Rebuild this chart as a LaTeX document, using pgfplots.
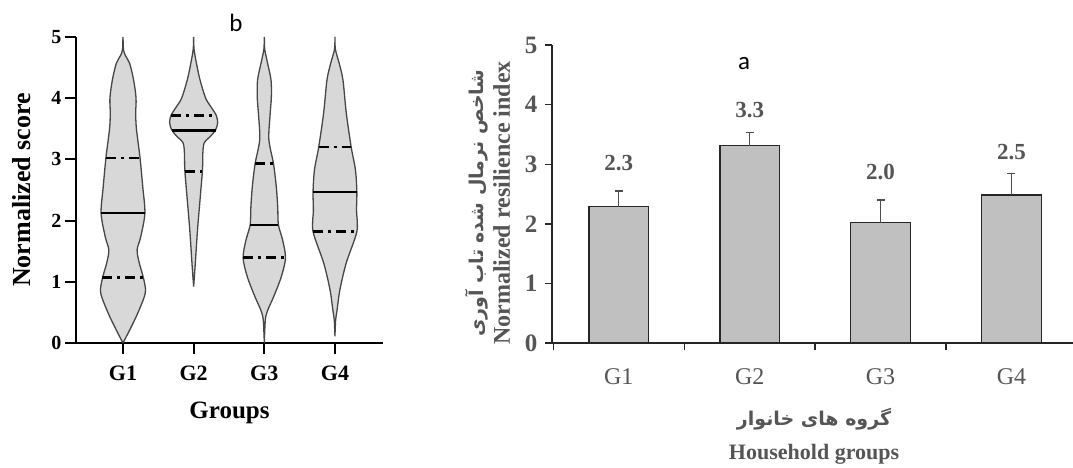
\documentclass[border=0pt]{standalone}
\usepackage{pgfplots}
\pgfplotsset{compat=1.18}
\usepackage{fontspec}
\setmainfont{Liberation Serif}
\newfontfamily\carlito{Carlito}
\newfontfamily\persian[Script=Arabic]{DejaVu Sans}
\TeXXeTstate=1
\definecolor{vfill}{RGB}{216,216,216}
\definecolor{vline}{RGB}{70,70,70}
\definecolor{bfill}{RGB}{192,192,192}
\definecolor{tgray}{RGB}{85,85,85}
\begin{document}
\begin{tikzpicture}
\useasboundingbox (0pt,0pt) rectangle (1073pt,467pt);
% ---------------- left: violin plot ----------------
\begin{axis}[
  at={(76pt,124pt)}, anchor=south west, scale only axis,
  width=307pt, height=306pt,
  xmin=0.335, xmax=4.68, ymin=0, ymax=5,
  axis x line*=bottom, axis y line*=left,
  axis line style={line width=2pt, black},
  xtick={1,2,3,4}, xticklabels={G1,G2,G3,G4},
  ytick={0,1,2,3,4,5},
  tick align=outside, major tick length=11pt,
  tick style={line width=2pt, black},
  /pgf/number format/assume math mode=true,
  yticklabel style={font=\fontsize{20}{21}\selectfont\bfseries},
  xticklabel style={font=\fontsize{22}{24}\selectfont\bfseries, yshift=-8pt},
  ylabel={Normalized score},
  ylabel style={font=\fontsize{26}{28}\selectfont\bfseries, at={(axis description cs:-0.176,0.5)}, anchor=center},
  xlabel={Groups},
  xlabel style={font=\fontsize{25}{28}\selectfont\bfseries, at={(axis description cs:0.5,-0.228)}, anchor=center},
  clip=false,
]
% G1
\addplot[fill=vfill, draw=vline, line width=1.3pt, smooth, tension=0.5] coordinates {
(1,0) (1.094,0.21) (1.21,0.49) (1.316,0.82) (1.29,1.06) (1.23,1.31) (1.2,1.52) (1.25,1.73) (1.31,2.12) (1.28,2.55) (1.24,3.04) (1.19,3.5) (1.18,3.76) (1.185,4.0) (1.15,4.3) (1.094,4.57) (1.033,4.7) (1.006,4.8) (1,5)
(0.994,4.8) (0.967,4.7) (0.906,4.57) (0.85,4.3) (0.815,4.0) (0.82,3.76) (0.81,3.5) (0.76,3.04) (0.72,2.55) (0.69,2.12) (0.75,1.73) (0.8,1.52) (0.77,1.31) (0.71,1.06) (0.684,0.82) (0.79,0.49) (0.906,0.21) (1,0)};
% G2
\addplot[fill=vfill, draw=vline, line width=1.3pt, smooth, tension=0.5] coordinates {
(2,0.92) (2.024,1.31) (2.055,1.85) (2.094,2.39) (2.125,2.83) (2.13,3.1) (2.15,3.27) (2.24,3.38) (2.31,3.48) (2.34,3.6) (2.32,3.72) (2.25,3.85) (2.17,4.0) (2.09,4.3) (2.04,4.57) (2.006,4.8) (2,5)
(1.994,4.8) (1.96,4.57) (1.91,4.3) (1.83,4.0) (1.75,3.85) (1.68,3.72) (1.66,3.6) (1.69,3.48) (1.76,3.38) (1.85,3.27) (1.87,3.1) (1.875,2.83) (1.906,2.39) (1.945,1.85) (1.976,1.31) (2,0.92)};
% G3
\addplot[fill=vfill, draw=vline, line width=1.3pt, smooth, tension=0.5] coordinates {
(3,0) (3.015,0.38) (3.05,0.54) (3.13,0.75) (3.24,1.08) (3.3,1.39) (3.26,1.68) (3.2,1.93) (3.19,2.22) (3.17,2.55) (3.13,2.93) (3.065,3.32) (3.08,3.7) (3.1,4.02) (3.095,4.3) (3.047,4.57) (3.006,4.8) (3,5)
(2.994,4.8) (2.953,4.57) (2.905,4.3) (2.9,4.02) (2.92,3.7) (2.935,3.32) (2.87,2.93) (2.83,2.55) (2.81,2.22) (2.8,1.93) (2.74,1.68) (2.7,1.39) (2.76,1.08) (2.87,0.75) (2.95,0.54) (2.985,0.38) (3,0)};
% G4
\addplot[fill=vfill, draw=vline, line width=1.3pt, smooth, tension=0.5] coordinates {
(4,0.11) (4.01,0.38) (4.03,0.54) (4.07,0.87) (4.16,1.31) (4.31,1.82) (4.305,2.17) (4.31,2.47) (4.29,2.83) (4.23,3.2) (4.16,3.76) (4.113,4.3) (4.06,4.57) (4.006,4.8) (4,5)
(3.994,4.8) (3.94,4.57) (3.887,4.3) (3.84,3.76) (3.77,3.2) (3.71,2.83) (3.69,2.47) (3.695,2.17) (3.69,1.82) (3.84,1.31) (3.93,0.87) (3.97,0.54) (3.99,0.38) (4,0.11)};
% medians
\addplot[black, line width=2.4pt] coordinates {(0.69,2.12) (1.31,2.12)};
\addplot[black, line width=2.4pt] coordinates {(1.69,3.47) (2.31,3.47)};
\addplot[black, line width=2.4pt] coordinates {(2.8,1.93) (3.2,1.93)};
\addplot[black, line width=2.4pt] coordinates {(3.69,2.47) (4.31,2.47)};
% quartiles
\pgfplotsset{qstyle/.style={black, line width=2.4pt, dash pattern=on 10pt off 5pt on 3pt off 5pt}}
\addplot[qstyle] coordinates {(0.76,3.02) (1.24,3.02)};
\addplot[qstyle] coordinates {(0.71,1.07) (1.29,1.07)};
\addplot[qstyle] coordinates {(1.68,3.72) (2.32,3.72)};
\addplot[qstyle] coordinates {(1.875,2.8) (2.125,2.8)};
\addplot[qstyle] coordinates {(2.87,2.93) (3.13,2.93)};
\addplot[qstyle] coordinates {(2.7,1.4) (3.3,1.4)};
\addplot[qstyle] coordinates {(3.77,3.2) (4.23,3.2)};
\addplot[qstyle] coordinates {(3.69,1.82) (4.31,1.82)};
\end{axis}
% ---------------- right: bar chart ----------------
\begin{axis}[
  at={(552pt,124pt)}, anchor=south west, scale only axis,
  width=521pt, height=298pt,
  xmin=0.49, xmax=4.47, ymin=0, ymax=5,
  axis x line*=bottom, axis y line*=left,
  axis line style={line width=1.4pt, black!85},
  xtick={0.5,1.5,2.5,3.5}, xticklabels={},
  extra x ticks={1,2,3,4}, extra x tick labels={G1,G2,G3,G4},
  extra x tick style={major tick length=0pt, xticklabel style={font=\fontsize{24}{26}\selectfont, text=tgray, yshift=-22pt}},
  ytick={0,1,2,3,4,5},
  tick align=outside, major tick length=7pt,
  tick style={line width=1.4pt, black!85},
  /pgf/number format/assume math mode=true,
  yticklabel style={font=\fontsize{25}{26}\selectfont\bfseries, text=tgray, xshift=-4pt},
  ylabel={{\persian\fontsize{19}{22}\selectfont\beginR شاخص نرمال شده تاب آوری\endR}\\Normalized resilience index},
  ylabel style={font=\fontsize{24}{26}\selectfont\bfseries, text=tgray, align=center, at={(axis description cs:-0.123,0.47)}, anchor=center},
  xlabel={{\persian\fontsize{19}{24}\selectfont\beginR گروه های خانوار\endR}\\[4pt]Household groups},
  xlabel style={font=\fontsize{22}{30}\selectfont\bfseries, text=tgray, align=center, at={(axis description cs:0.503,-0.312)}, anchor=center},
  clip=false,
]
\addplot[ybar, bar width=0.457, fill=bfill, draw=black!85, line width=1.5pt,
  error bars/.cd, y dir=plus, y explicit,
  error bar style={line width=1.4pt, black!70},
  error mark options={rotate=90, mark size=4pt, line width=1.4pt, black!70}]
  coordinates {(1,2.29) +- (0,0.26) (2,3.31) +- (0,0.22) (3,2.02) +- (0,0.38) (4,2.48) +- (0,0.36)};
\node[font=\fontsize{23}{25}\selectfont\bfseries, text=tgray] at (axis cs:1,3.02) {2.3};
\node[font=\fontsize{23}{25}\selectfont\bfseries, text=tgray] at (axis cs:2,3.91) {3.3};
\node[font=\fontsize{23}{25}\selectfont\bfseries, text=tgray] at (axis cs:3,2.87) {2.0};
\node[font=\fontsize{23}{25}\selectfont\bfseries, text=tgray] at (axis cs:4,3.2) {2.5};
\end{axis}
\node[font=\carlito\fontsize{25}{30}\selectfont] at (236pt,444pt) {b};
\node[font=\carlito\fontsize{25}{30}\selectfont] at (744pt,403pt) {a};
\end{tikzpicture}
\end{document}
